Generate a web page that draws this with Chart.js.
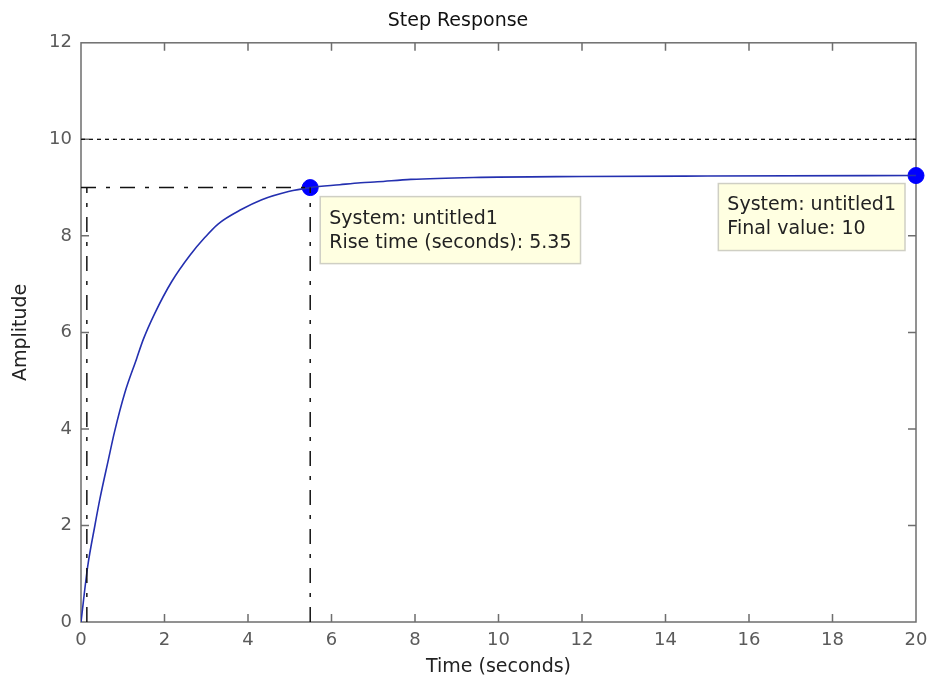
<!DOCTYPE html>
<html>
<head>
<meta charset="utf-8">
<title>Step Response</title>
<script src="https://cdn.jsdelivr.net/npm/chart.js@4/dist/chart.umd.min.js"></script>
<style>
  html, body { margin: 0; padding: 0; background: #fff; }
  #wrap { width: 928px; height: 682px; }
</style>
</head>
<body>
<div id="wrap"><canvas id="grafico" width="928" height="682"></canvas></div>
<script>
const tiempo = [0, 0.16, 0.335, 0.455, 0.655, 0.8, 1.05, 1.33, 1.49, 1.77, 2.17, 2.61,
  2.97, 3.29, 3.85, 4.33, 4.97, 5.49, 6.2, 6.7, 7.1, 7.9, 9.4, 12, 15, 20];
const amplitud = [0, 1.15, 2.01, 2.56, 3.36, 3.93, 4.75, 5.45, 5.85, 6.4, 7.05, 7.6,
  7.97, 8.25, 8.55, 8.75, 8.92, 9.0, 9.06, 9.1, 9.12, 9.17, 9.21, 9.23, 9.24, 9.25];

// Marcas del tiempo de subida y valor final
const inicioSubida = 0.14;
const finSubida = 5.49;
const nivelSubida = 9;
const valorFinal = 10;
const puntoFinal = [20, 9.25];

const ticksX = [0, 2, 4, 6, 8, 10, 12, 14, 16, 18, 20];
const ticksY = [0, 2, 4, 6, 8, 10, 12];

const textoSubida = ["System: untitled1", `Rise time (seconds): ${(finSubida - inicioSubida).toFixed(2)}`];
const textoFinal = ["System: untitled1", `Final value: ${valorFinal}`];

const fuente = "'DejaVu Sans', sans-serif";
const rayaPunto = [15, 10, 4, 10];

const curva = tiempo.map((t, i) => ({ x: t, y: amplitud[i] }));

// Caja de ejes con marcas hacia adentro, como en MATLAB
const marcoEjes = {
  id: "marcoEjes",
  beforeDatasetsDraw(chart) {
    const { ctx, chartArea: a, scales } = chart;
    const largo = 8;
    ctx.save();
    ctx.strokeStyle = "#6e6e6e";
    ctx.lineWidth = 1.5;
    ctx.strokeRect(a.left, a.top, a.right - a.left, a.bottom - a.top);
    ctx.beginPath();
    ticksX.slice(1, -1).forEach((v) => {
      const px = scales.x.getPixelForValue(v);
      ctx.moveTo(px, a.bottom); ctx.lineTo(px, a.bottom - largo);
      ctx.moveTo(px, a.top); ctx.lineTo(px, a.top + largo);
    });
    ticksY.slice(1, -1).forEach((v) => {
      const py = scales.y.getPixelForValue(v);
      ctx.moveTo(a.left, py); ctx.lineTo(a.left + largo, py);
      ctx.moveTo(a.right, py); ctx.lineTo(a.right - largo, py);
    });
    ctx.stroke();
    ctx.restore();
  },
};

// Cuadros de datos junto a los puntos marcados
const dibujarCuadro = (ctx, lineas, x, y, alDerecha) => {
  ctx.font = `19px ${fuente}`;
  const ancho = Math.max(...lineas.map((l) => ctx.measureText(l).width)) + 18;
  const alto = 67;
  const izq = alDerecha ? x : x - ancho;
  ctx.fillStyle = "#ffffe1";
  ctx.fillRect(izq, y, ancho, alto);
  ctx.strokeStyle = "#cfcfc4";
  ctx.lineWidth = 1.5;
  ctx.strokeRect(izq, y, ancho, alto);
  ctx.fillStyle = "#222";
  ctx.textBaseline = "middle";
  ctx.textAlign = "left";
  lineas.forEach((l, i) => ctx.fillText(l, izq + 9, y + 22 + i * 24));
};

const cuadrosDatos = {
  id: "cuadrosDatos",
  afterDatasetsDraw(chart) {
    const { ctx, scales } = chart;
    ctx.save();
    const sx = scales.x.getPixelForValue(finSubida);
    const sy = scales.y.getPixelForValue(nivelSubida);
    dibujarCuadro(ctx, textoSubida, sx + 10, sy + 9, true);
    const fx = scales.x.getPixelForValue(puntoFinal[0]);
    const fy = scales.y.getPixelForValue(puntoFinal[1]);
    dibujarCuadro(ctx, textoFinal, fx - 11, fy + 8, false);
    ctx.restore();
  },
};

const config = {
  type: "scatter",
  data: {
    datasets: [
      {
        label: "Valor final",
        data: [{ x: 0, y: valorFinal }, { x: 20, y: valorFinal }],
        showLine: true,
        borderColor: "#111",
        borderWidth: 1.3,
        borderDash: [4, 4],
        pointRadius: 0,
      },
      {
        label: "Nivel 90%",
        data: [{ x: 0, y: nivelSubida }, { x: finSubida, y: nivelSubida }],
        showLine: true,
        borderColor: "#111",
        borderWidth: 1.5,
        borderDash: rayaPunto,
        pointRadius: 0,
      },
      {
        label: "Inicio subida",
        data: [{ x: inicioSubida, y: 0 }, { x: inicioSubida, y: nivelSubida }],
        showLine: true,
        borderColor: "#111",
        borderWidth: 1.5,
        borderDash: rayaPunto,
        pointRadius: 0,
      },
      {
        label: "Fin subida",
        data: [{ x: finSubida, y: 0 }, { x: finSubida, y: nivelSubida }],
        showLine: true,
        borderColor: "#111",
        borderWidth: 1.5,
        borderDash: rayaPunto,
        pointRadius: 0,
      },
      {
        label: "untitled1",
        data: curva,
        showLine: true,
        borderColor: "#2430b0",
        borderWidth: 1.6,
        cubicInterpolationMode: "monotone",
        pointRadius: 0,
      },
      {
        label: "Marcadores",
        data: [{ x: finSubida, y: nivelSubida }, { x: puntoFinal[0], y: puntoFinal[1] }],
        showLine: false,
        pointRadius: 8,
        pointBackgroundColor: "#0000ff",
        pointBorderColor: "#0000ff",
        clip: false,
      },
    ],
  },
  options: {
    responsive: false,
    animation: false,
    layout: { padding: { left: 0, right: 12, top: 0, bottom: 0 } },
    plugins: {
      legend: { display: false },
      tooltip: { enabled: false },
      title: {
        display: true,
        text: "Step Response",
        color: "#111",
        font: { family: fuente, size: 19, weight: "normal" },
        padding: { top: 10, bottom: 10 },
      },
    },
    scales: {
      x: {
        type: "linear",
        min: 0,
        max: 20,
        afterFit: (s) => {
          s.height = 60;
          s.paddingLeft = 0;
          s.paddingRight = 0;
        },
        afterBuildTicks: (s) => { s.ticks = ticksX.map((v) => ({ value: v })); },
        grid: { display: false, drawTicks: false },
        border: { display: false },
        ticks: { color: "#5a5a5a", font: { family: fuente, size: 18 }, padding: 8, maxRotation: 0 },
        title: {
          display: true,
          text: "Time (seconds)",
          color: "#222",
          font: { family: fuente, size: 19 },
          padding: { top: 0, bottom: 4 },
        },
      },
      y: {
        type: "linear",
        min: 0,
        max: 12,
        afterFit: (s) => { s.width = 81; },
        afterBuildTicks: (s) => { s.ticks = ticksY.map((v) => ({ value: v })); },
        grid: { display: false, drawTicks: false },
        border: { display: false },
        ticks: { color: "#5a5a5a", font: { family: fuente, size: 18 }, padding: 9 },
        title: {
          display: true,
          text: "Amplitude",
          color: "#222",
          font: { family: fuente, size: 19 },
          padding: { top: 10, bottom: 0 },
        },
      },
    },
  },
  plugins: [marcoEjes, cuadrosDatos],
};

new Chart(document.getElementById("grafico").getContext("2d"), config);
</script>
</body>
</html>
